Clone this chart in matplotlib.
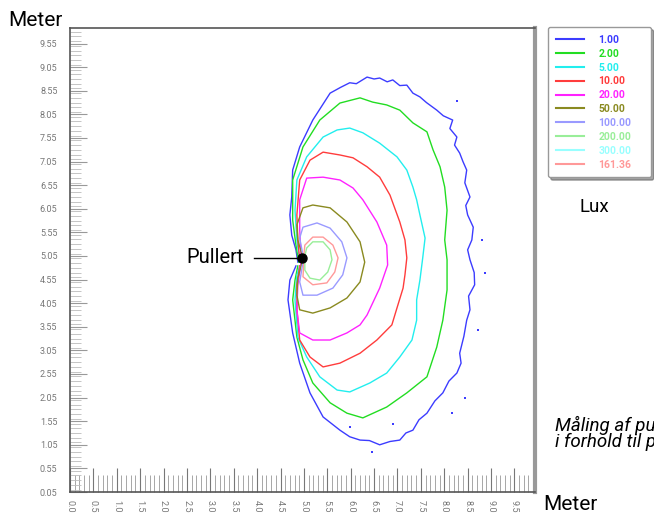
import matplotlib
matplotlib.use("Agg")
import matplotlib.pyplot as plt
from matplotlib.lines import Line2D
from matplotlib.ticker import MultipleLocator

plt.rcParams['font.family'] = ['Roboto', 'DejaVu Sans']

# lux levels shown in the legend and their colours
lux_labels = ['1.00', '2.00', '5.00', '10.00', '20.00', '50.00', '100.00', '200.00', '300.00', '161.36']
lux_colors = ['#3c3cff', '#22dd22', '#22eeee', '#ff3c3c', '#ff22ff', '#8a8a20',
              '#9a9aff', '#99ee99', '#99ffff', '#ff9999']

# tick labels as they appear on the chart
x_tick_labels = ['0.0', '0.5', '1.0', '1.5', '2.0', '2.5', '3.0', '3.5', '4.0', '4.5',
                 '5.0', '5.5', '6.0', '6.5', '7.0', '7.5', '8.0', '8.5', '9.0', '9.5']
y_tick_labels = ['0.05', '0.55', '1.05', '1.55', '2.05', '2.55', '3.05', '3.55', '4.05', '4.55',
                 '5.05', '5.55', '6.05', '6.55', '7.05', '7.55', '8.05', '8.55', '9.05', '9.55']

# bollard position (meter)
pullert = (4.96, 5.01)

# iso-lux lines (x, y in meter)
lux_1 = [(4.87, 4.92), (4.83, 5.18), (4.74, 5.49), (4.70, 5.92), (4.74, 6.30), (4.76, 6.87),
         (4.91, 7.36), (5.19, 7.93), (5.56, 8.50), (5.78, 8.62), (5.98, 8.72), (6.12, 8.70),
         (6.35, 8.84), (6.50, 8.80), (6.62, 8.82), (6.78, 8.74), (6.90, 8.78), (7.05, 8.66),
         (7.20, 8.67), (7.33, 8.50), (7.48, 8.42), (7.62, 8.30), (7.84, 8.14), (7.98, 8.02),
         (8.18, 7.93), (8.12, 7.75), (8.27, 7.57), (8.22, 7.40), (8.33, 7.23), (8.40, 7.05),
         (8.48, 6.87), (8.44, 6.60), (8.55, 6.30), (8.46, 6.12), (8.50, 5.92), (8.62, 5.66),
         (8.59, 5.39), (8.50, 5.18), (8.55, 4.97), (8.64, 4.70), (8.65, 4.44), (8.52, 4.20),
         (8.55, 3.91), (8.48, 3.69), (8.42, 3.35), (8.33, 2.99), (8.36, 2.78), (8.27, 2.57),
         (8.10, 2.40), (7.97, 2.15), (7.80, 1.98), (7.63, 1.72), (7.46, 1.58), (7.33, 1.36),
         (7.18, 1.30), (7.05, 1.15), (6.84, 1.12), (6.62, 1.05), (6.40, 1.14), (6.20, 1.15),
         (5.98, 1.22), (5.77, 1.36), (5.41, 1.64), (5.13, 2.15), (4.91, 2.78), (4.76, 3.42),
         (4.66, 4.12), (4.70, 4.54), (4.83, 4.84)]
lux_1_specks = [(8.27, 8.33), (8.80, 5.39), (8.87, 4.69), (8.72, 3.48), (8.44, 2.04),
                (8.16, 1.72), (6.45, 0.90), (6.90, 1.49), (5.98, 1.43)]
lux_2 = [(4.89, 4.92), (4.83, 5.28), (4.76, 5.81), (4.76, 6.66), (4.98, 7.36), (5.34, 7.93),
         (5.77, 8.29), (6.20, 8.40), (6.47, 8.31), (6.77, 8.25), (7.05, 8.14), (7.33, 7.87),
         (7.63, 7.68), (7.76, 7.30), (7.91, 6.94), (8.01, 6.51), (8.06, 6.02), (8.01, 5.39),
         (8.06, 4.97), (8.06, 4.33), (7.97, 3.69), (7.84, 3.12), (7.63, 2.49), (7.20, 2.15),
         (6.77, 1.85), (6.26, 1.62), (5.92, 1.72), (5.56, 1.94), (5.19, 2.36), (4.98, 2.85),
         (4.85, 3.33), (4.76, 4.12), (4.81, 4.54), (4.87, 4.84)]
lux_5 = [(4.91, 4.92), (4.85, 5.39), (4.81, 6.02), (4.85, 6.66), (5.06, 7.15), (5.41, 7.57),
         (5.71, 7.72), (5.98, 7.76), (6.26, 7.66), (6.62, 7.44), (6.99, 7.15), (7.20, 6.87),
         (7.33, 6.51), (7.41, 6.24), (7.48, 5.92), (7.59, 5.43), (7.54, 5.01), (7.48, 4.54),
         (7.41, 4.12), (7.41, 3.69), (7.31, 3.27), (7.05, 2.91), (6.77, 2.57), (6.41, 2.36),
         (5.98, 2.17), (5.71, 2.21), (5.34, 2.49), (5.06, 2.91), (4.87, 3.33), (4.81, 4.12),
         (4.85, 4.65), (4.91, 4.84)]
lux_10 = [(4.91, 4.97), (4.87, 5.39), (4.85, 5.92), (4.91, 6.66), (5.13, 7.08), (5.41, 7.25),
          (5.77, 7.19), (6.05, 7.13), (6.35, 6.94), (6.62, 6.72), (6.84, 6.34), (7.05, 5.77),
          (7.16, 5.39), (7.20, 5.01), (7.16, 4.65), (7.12, 4.37), (6.99, 3.95), (6.88, 3.59),
          (6.56, 3.27), (6.20, 2.99), (5.77, 2.78), (5.41, 2.70), (5.13, 2.91), (4.91, 3.27),
          (4.85, 3.91), (4.85, 4.44), (4.91, 4.84)]
lux_20 = [(4.94, 5.01), (4.91, 5.60), (4.91, 6.24), (5.06, 6.70), (5.41, 6.72), (5.77, 6.66),
          (6.05, 6.49), (6.26, 6.24), (6.56, 5.77), (6.77, 5.28), (6.79, 4.86), (6.62, 4.37),
          (6.35, 3.80), (6.20, 3.59), (5.92, 3.42), (5.56, 3.27), (5.19, 3.27), (4.91, 3.42),
          (4.85, 3.91), (4.87, 4.44), (4.94, 4.92)]
lux_50 = [(4.96, 5.07), (4.87, 5.39), (4.85, 5.71), (4.98, 6.07), (5.19, 6.13), (5.56, 6.07),
          (5.92, 5.77), (6.20, 5.35), (6.30, 4.92), (6.20, 4.50), (5.92, 4.16), (5.56, 3.95),
          (5.19, 3.84), (4.91, 3.91), (4.85, 4.22), (4.87, 4.58), (4.96, 4.92)]
lux_100 = [(4.98, 5.07), (4.91, 5.43), (4.98, 5.66), (5.28, 5.75), (5.56, 5.64), (5.81, 5.35),
           (5.92, 5.01), (5.83, 4.65), (5.62, 4.37), (5.28, 4.22), (4.98, 4.22), (4.91, 4.50),
           (4.98, 4.92)]
lux_161 = [(5.00, 5.07), (5.02, 5.28), (5.19, 5.45), (5.41, 5.45), (5.62, 5.28), (5.73, 5.01),
           (5.66, 4.71), (5.49, 4.48), (5.19, 4.44), (4.98, 4.61), (5.00, 4.92)]
lux_200 = [(5.02, 5.05), (5.06, 5.22), (5.19, 5.35), (5.41, 5.35), (5.56, 5.18), (5.60, 4.97),
           (5.51, 4.71), (5.34, 4.54), (5.13, 4.58), (5.02, 4.75), (5.02, 4.92)]

W, H = 654, 517
fig = plt.figure(figsize=(W / 100, H / 100), dpi=100)
ax = fig.add_axes([70 / W, 1 - 492 / H, 465 / W, 464 / H])


def draw(points, color, lw=1.0):
    xs = [p[0] for p in points]
    ys = [p[1] for p in points]
    ax.plot(xs, ys, color=color, lw=lw, solid_joinstyle='round')


draw(lux_1, lux_colors[0])
ax.plot([p[0] for p in lux_1_specks], [p[1] for p in lux_1_specks], 's',
        ms=1.5, color=lux_colors[0], mew=0)
draw(lux_2, lux_colors[1])
draw(lux_5, lux_colors[2])
draw(lux_10, lux_colors[3])
draw(lux_20, lux_colors[4])
draw(lux_50, lux_colors[5])
draw(lux_100, lux_colors[6])
draw(lux_161, lux_colors[9])
draw(lux_200, lux_colors[7])

# bollard marker with label
ax.plot([3.93, 4.88], [pullert[1], pullert[1]], color='black', lw=1)
ax.plot(*pullert, 'o', color='black', ms=6.5)
ax.text(3.72, pullert[1], 'Pullert', ha='right', va='center', fontsize=14.5)

ax.set_xlim(0, 9.94)
ax.set_ylim(0.05, 9.88)

ax.set_xticks([float(s) for s in x_tick_labels])
ax.set_xticklabels(x_tick_labels, rotation=-90, fontsize=6.5, color='#777777')
ax.set_yticks([float(s) for s in y_tick_labels])
ax.set_yticklabels(y_tick_labels, fontsize=6.5, color='#777777')
ax.xaxis.set_minor_locator(MultipleLocator(0.1))
ax.yaxis.set_minor_locator(MultipleLocator(0.1))
ax.tick_params(axis='x', which='major', direction='in', length=17, color='#777777', pad=6)
ax.tick_params(axis='x', which='minor', direction='in', length=12, color='#999999')
ax.tick_params(axis='y', which='major', direction='in', length=12, color='#999999', pad=9)
ax.tick_params(axis='y', which='minor', direction='in', length=8, color='#bbbbbb')

for side in ['left', 'bottom', 'top']:
    ax.spines[side].set_color('#555555')
    ax.spines[side].set_linewidth(1.2)
ax.spines['right'].set_color('#999999')
ax.spines['right'].set_linewidth(3)

# legend
handles = [Line2D([], [], color=c, lw=1.5) for c in lux_colors]
leg = fig.legend(handles, lux_labels, loc='upper left',
                 bbox_to_anchor=(548 / W, 1 - 27 / H - 0.01, 103 / W, 0.01), mode='expand',
                 prop={'weight': 'bold', 'size': 7.5}, labelcolor=lux_colors,
                 handlelength=2.7, handletextpad=1.4, labelspacing=0.37, borderpad=0.75,
                 fancybox=True, shadow=True, framealpha=1, edgecolor='#999999',
                 borderaxespad=0)

# annotation texts
fig.text(35 / W, 1 - 20 / H, 'Meter', ha='center', va='center', fontsize=15)
fig.text(570 / W, 1 - 505 / H, 'Meter', ha='center', va='center', fontsize=15)
fig.text(594 / W, 1 - 207 / H, 'Lux', ha='center', va='center', fontsize=13.5)
fig.text(555 / W, 1 - 425 / H, 'Måling af pullertens lysudbredelse', ha='left', va='center',
         fontsize=13.5, style='italic')
fig.text(555 / W, 1 - 442 / H, 'i forhold til pullertens placering', ha='left', va='center',
         fontsize=13.5, style='italic')

fig.savefig('out.png', dpi=100)
